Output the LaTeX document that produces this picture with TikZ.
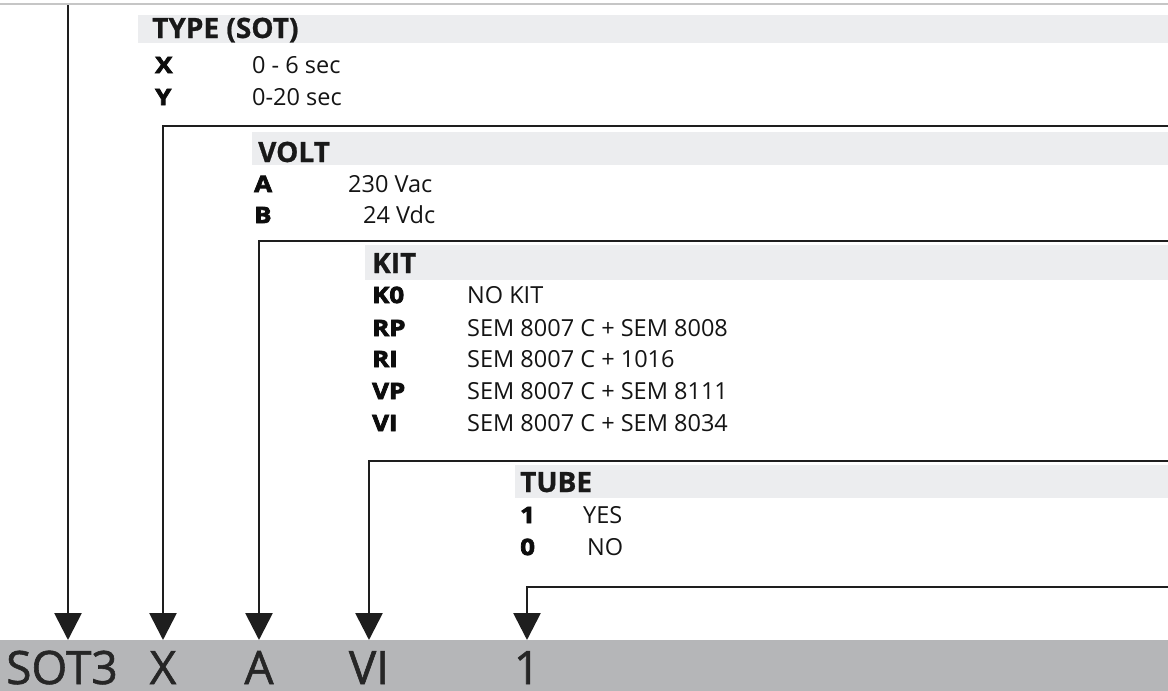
\documentclass[tikz,border=0pt]{standalone}
\usepackage{fontspec}
\setmainfont{Open Sans}
\newfontfamily\keyfont{Open Sans}[BoldFeatures={FakeBold=3.5,FakeStretch=1.15}]
\newfontfamily\hdrfont{Open Sans}[BoldFeatures={FakeBold=0.8}]
\newfontfamily\codefont{Open Sans}[BoldFont={Open Sans},BoldFeatures={FakeBold=1.3}]
\usetikzlibrary{arrows.meta}
\definecolor{hdr}{HTML}{ECEDEF}
\definecolor{barc}{HTML}{B5B6B8}
\definecolor{ln}{HTML}{1E1E1E}
\begin{document}
\begin{tikzpicture}[x=1pt,y=-1pt,
  txt/.style={anchor=base west, inner sep=0pt, font=\fontsize{23.5}{27}\selectfont, text=black!92},
  keytxt/.style={anchor=base west, inner sep=0pt, font=\keyfont\bfseries\fontsize{22.5}{26}\selectfont, text=black!95},
  hdrtxt/.style={anchor=base west, inner sep=0pt, font=\hdrfont\bfseries\fontsize{28}{32}\selectfont, text=black!90},
  hdrbar/.style={fill=hdr, draw=none, inner sep=0pt, anchor=north west},
  conn/.style={draw=ln, line width=2.8pt},
  arr/.style={conn, -{Triangle[width=27pt,length=27pt]}},
  codetxt/.style={anchor=base, inner sep=0pt, text depth=0pt, font=\codefont\bfseries\fontsize{46}{50}\selectfont, text=black!85}]
\useasboundingbox (0,0) rectangle (1168,691);

% faint top rule (cut-off table above)
\coordinate (tl) at (0,4);
\coordinate (tr) at (1168,4);
\draw[gray!45, line width=1.5pt] (tl) -- (tr);

% header bars
\node[hdrbar, minimum width=1030pt, minimum height=28pt] (typebar) at (138,15) {};
\node[hdrbar, minimum width=916pt, minimum height=33pt] (voltbar) at (252,132) {};
\node[hdrbar, minimum width=803pt, minimum height=35pt] (kitbar) at (365,245) {};
\node[hdrbar, minimum width=653pt, minimum height=33pt] (tubebar) at (515,465) {};

% TYPE
\node[hdrtxt] (typeh) at (152,38) {TYPE (SOT)};
\node[keytxt] (kx) at (155,73) {X};
\node[txt] (dx) at (252,73) {0 - 6 sec};
\node[keytxt] (ky) at (155,105) {Y};
\node[txt] (dy) at (252,105) {0-20 sec};

% VOLT
\node[hdrtxt] (volth) at (258,162) {VOLT};
\node[keytxt] (ka) at (254,192) {A};
\node[txt] (da) at (348,192) {230 Vac};
\node[keytxt] (kb) at (254,223) {B};
\node[txt] (db) at (363,223) {24 Vdc};

% KIT
\node[hdrtxt] (kith) at (372,273) {KIT};
\node[keytxt] (kk0) at (372,303) {K0};
\node[txt] (dk0) at (467,303) {NO KIT};
\node[keytxt] (krp) at (372,336) {RP};
\node[txt] (drp) at (467,336) {SEM 8007 C + SEM 8008};
\node[keytxt] (kri) at (372,367) {RI};
\node[txt] (dri) at (467,367) {SEM 8007 C + 1016};
\node[keytxt] (kvp) at (372,399) {VP};
\node[txt] (dvp) at (467,399) {SEM 8007 C + SEM 8111};
\node[keytxt] (kvi) at (372,431) {VI};
\node[txt] (dvi) at (467,431) {SEM 8007 C + SEM 8034};

% TUBE
\node[hdrtxt] (tubeh) at (520,492) {TUBE};
\node[keytxt] (k1) at (520,523) {1};
\node[txt] (d1) at (583,523) {YES};
\node[keytxt] (k0) at (520,555) {0};
\node[txt] (d0) at (587,555) {NO};

% bottom code bar
\node[fill=barc, draw=none, inner sep=0pt, anchor=north west, minimum width=1168pt, minimum height=51pt] (bar) at (0,640) {};
\node[codetxt, anchor=base west] (csot) at (6,684) {SOT3};
\node[codetxt] (cx) at (163,684) {X};
\node[codetxt] (ca) at (259,684) {A};
\node[codetxt] (cvi) at (369,684) {VI};
\node[codetxt] (cone) at (527,684) {1};

% connectors
\coordinate (top1) at (68,5);
\coordinate (rX) at (1168,126);
\coordinate (rA) at (1168,241);
\coordinate (rVI) at (1168,461);
\coordinate (rOne) at (1168,587);
\draw[arr] (top1) -- (top1 |- bar.north);
\draw[arr] (rX) -| (cx |- bar.north);
\draw[arr] (rA) -| (ca |- bar.north);
\draw[arr] (rVI) -| (cvi |- bar.north);
\draw[arr] (rOne) -| (cone |- bar.north);
\end{tikzpicture}
\end{document}
